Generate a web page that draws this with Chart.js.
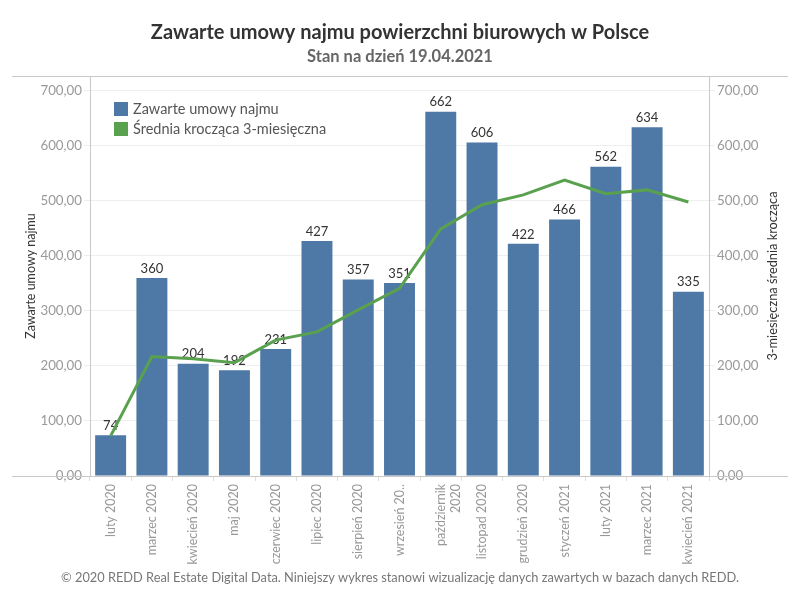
<!DOCTYPE html>
<html>
<head>
<meta charset="utf-8">
<script src="https://cdn.jsdelivr.net/npm/chart.js@4.4.1/dist/chart.umd.min.js"></script>
<style>
html,body{margin:0;padding:0;background:#fff;}
#wrap{width:800px;height:600px;position:relative;}
</style>
</head>
<body>
<div id="wrap"><canvas id="c" width="800" height="600"></canvas></div>
<script>
const titleText = 'Zawarte umowy najmu powierzchni biurowych w Polsce';
const subtitleText = 'Stan na dzień 19.04.2021';
const footerText = '© 2020 REDD Real Estate Digital Data. Niniejszy wykres stanowi wizualizację danych zawartych w bazach danych REDD.';
const categories = ['luty 2020','marzec 2020','kwiecień 2020','maj 2020','czerwiec 2020','lipiec 2020','sierpień 2020','wrzesień 20..',['październik','2020'],'listopad 2020','grudzień 2020','styczeń 2021','luty 2021','marzec 2021','kwiecień 2021'];
const leases = [74,360,204,192,231,427,357,351,662,606,422,466,562,634,335];
const movingAvg = [73,217,213,206,247,262,302,341,449,493,511,538,513,520,498];
const yTicks = [0,100,200,300,400,500,600,700];
const leftAxisTitle = 'Zawarte umowy najmu';
const rightAxisTitle = '3-miesięczna średnia krocząca';
const seriesNames = ['Zawarte umowy najmu','Średnia krocząca 3-miesięczna'];

const FONT = 'Lato, "Open Sans", sans-serif';
const BLUE = '#4e79a7', GREEN = '#59a14f';

const fmt = v => v.toFixed(2).replace('.', ',');

const decor = {
  id: 'decor',
  afterDatasetDraw(chart, args) {
    if (args.index !== 0) return;
    const ctx = chart.ctx;
    const meta = chart.getDatasetMeta(0);
    ctx.save();
    ctx.font = '13px ' + FONT;
    ctx.fillStyle = '#333';
    ctx.textAlign = 'center';
    ctx.textBaseline = 'bottom';
    meta.data.forEach((bar, i) => {
      ctx.fillText(String(leases[i]), bar.x, bar.y - 3);
    });
    ctx.restore();
  },
  afterDraw(chart) {
    const ctx = chart.ctx;
    const a = chart.chartArea;
    ctx.save();
    // frame lines
    ctx.strokeStyle = '#c8c8c8';
    ctx.lineWidth = 1;
    ctx.beginPath();
    ctx.moveTo(12, Math.round(a.top) + 0.5); ctx.lineTo(788, Math.round(a.top) + 0.5);
    ctx.moveTo(12, Math.round(a.bottom) + 0.5); ctx.lineTo(788, Math.round(a.bottom) + 0.5);
    ctx.stroke();
    // titles
    ctx.textAlign = 'center';
    ctx.textBaseline = 'middle';
    ctx.fillStyle = '#333';
    ctx.font = 'bold 20px ' + FONT;
    ctx.fillText(titleText, 400, 33);
    ctx.fillStyle = '#666';
    ctx.font = 'bold 16.5px ' + FONT;
    ctx.fillText(subtitleText, 400, 57);
    // footer
    ctx.fillStyle = '#777';
    ctx.font = '12.8px ' + FONT;
    ctx.fillText(footerText, 400, 578);
    // right axis title (reads bottom-to-top)
    ctx.save();
    ctx.translate(773, (a.top + a.bottom) / 2);
    ctx.rotate(-Math.PI / 2);
    ctx.fillStyle = '#333';
    ctx.font = '12.8px ' + FONT;
    ctx.fillText(rightAxisTitle, 0, 0);
    ctx.restore();
    // legend
    const ds = chart.data.datasets;
    ctx.textAlign = 'left';
    ctx.font = '14.5px ' + FONT;
    ds.forEach((d, i) => {
      const y = 102 + i * 20;
      ctx.fillStyle = d.legendColor;
      ctx.fillRect(114, y, 14, 14);
      ctx.fillStyle = '#555';
      ctx.fillText(d.label, 133, y + 7.5);
    });
    ctx.restore();
  }
};

const setTicks = scale => { scale.ticks = yTicks.map(v => ({ value: v })); };

new Chart(document.getElementById('c'), {
  data: {
    labels: categories,
    datasets: [
      { type: 'bar', label: seriesNames[0], data: leases, backgroundColor: BLUE, legendColor: BLUE,
        barPercentage: 0.75, categoryPercentage: 1.0, yAxisID: 'y', order: 2 },
      { type: 'line', label: seriesNames[1], data: movingAvg, borderColor: GREEN, legendColor: GREEN,
        borderWidth: 3, pointRadius: 0, tension: 0, fill: false, yAxisID: 'y1', order: 1 }
    ]
  },
  options: {
    responsive: false,
    animation: false,
    layout: { padding: { top: 76, bottom: 0, left: 0, right: 0 } },
    plugins: { legend: { display: false }, tooltip: { enabled: false }, title: { display: false } },
    scales: {
      x: {
        offset: true,
        grid: { display: true, drawOnChartArea: false, offset: true, tickLength: 5, color: '#dddddd' },
        border: { display: true, color: '#c8c8c8' },
        ticks: { maxRotation: 90, minRotation: 90, autoSkip: false, color: '#999', padding: 3,
                 font: { family: FONT, size: 12.5 } },
        afterFit(s) { s.height = 124; }
      },
      y: {
        position: 'left', min: 0, max: 727,
        afterBuildTicks: setTicks,
        grid: { color: '#eeeeee', tickLength: 6, drawTicks: true },
        border: { display: true, color: '#c8c8c8' },
        ticks: { autoSkip: false, color: '#999', padding: 2, font: { family: FONT, size: 13.3 }, callback: v => fmt(v) },
        title: { display: true, text: leftAxisTitle, color: '#333', font: { family: FONT, size: 12.5 }, padding: { top: 23, bottom: 0 } },
        afterFit(s) { s.width = 90; }
      },
      y1: {
        position: 'right', min: 0, max: 727,
        afterBuildTicks: setTicks,
        grid: { drawOnChartArea: false, tickLength: 6, color: '#eeeeee' },
        border: { display: true, color: '#c8c8c8' },
        ticks: { autoSkip: false, color: '#999', padding: 2, font: { family: FONT, size: 13.3 }, callback: v => fmt(v) },
        title: { display: false },
        afterFit(s) { s.width = 91; }
      }
    }
  },
  plugins: [decor]
});
</script>
</body>
</html>
